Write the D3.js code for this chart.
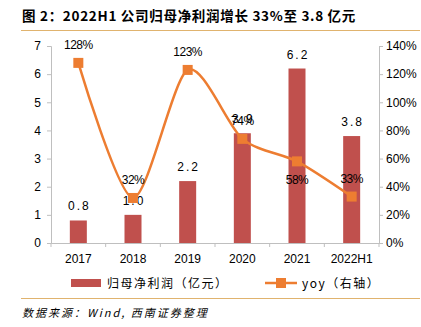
<!DOCTYPE html>
<html>
<head>
<meta charset="utf-8">
<script src="https://cdn.jsdelivr.net/npm/d3@7"></script>
<style>
  body { margin: 0; background: #fff; }
  text { font-family: "Liberation Sans", Arial, sans-serif; fill: #000; }
  .cjk { font-family: "Noto Sans CJK SC", sans-serif; }
</style>
</head>
<body>
<div id="chart"></div>
<script>
// data
var years = ["2017", "2018", "2019", "2020", "2021", "2022H1"];
var profit = [0.8, 1.0, 2.2, 3.9, 6.2, 3.8];
var yoy = [128, 32, 123, 74, 58, 33];
var leftTicks = [0, 1, 2, 3, 4, 5, 6, 7];
var rightTicks = [0, 20, 40, 60, 80, 100, 120, 140];

var width = 421, height = 327;
var plotL = 51, plotR = 379, plotT = 46, plotB = 243;

var svg = d3.select("#chart").append("svg")
    .attr("width", width)
    .attr("height", height);

// title + rules
svg.append("text")
    .attr("x", 22).attr("y", 21)
    .attr("class", "cjk")
    .attr("font-size", 13.5).attr("font-weight", "bold")
    .attr("letter-spacing", 0.7)
    .text("图 2：2022H1 公司归母净利润增长 33%至 3.8 亿元");

svg.append("line").attr("x1", 21).attr("x2", 420).attr("y1", 30.5).attr("y2", 30.5)
    .attr("stroke", "#E0B36E").attr("stroke-width", 1.2);
svg.append("line").attr("x1", 21).attr("x2", 420).attr("y1", 298.5).attr("y2", 298.5)
    .attr("stroke", "#E0B36E").attr("stroke-width", 1.2);

svg.append("text")
    .attr("x", 22).attr("y", 317)
    .attr("class", "cjk")
    .attr("font-size", 11).attr("font-style", "italic")
    .attr("letter-spacing", 2)
    .text("数据来源：Wind, 西南证券整理");

// scales
var x = d3.scaleBand().domain(years).range([plotL, plotR]);
var y = d3.scaleLinear().domain([0, 7]).range([plotB, plotT]);
var y2 = d3.scaleLinear().domain([0, 140]).range([plotB, plotT]);

// axes
var axisColor = "#BFBFBF";
var gl = svg.append("g").attr("transform", `translate(${plotL},0)`)
    .call(d3.axisLeft(y).tickValues(leftTicks).tickSize(4).tickPadding(6)
        .tickFormat(d3.format("d")));
var gr = svg.append("g").attr("transform", `translate(${plotR},0)`)
    .call(d3.axisRight(y2).tickValues(rightTicks).tickSize(4).tickPadding(3)
        .tickFormat(function(d){ return d + "%"; }));
var gb = svg.append("g").attr("transform", `translate(0,${plotB})`)
    .call(d3.axisBottom(x).tickSize(0).tickPadding(11));

[gl, gr, gb].forEach(function(g){
    g.select(".domain").attr("stroke", axisColor);
    g.selectAll(".tick line").attr("stroke", axisColor);
    g.selectAll("text").attr("font-size", 12).attr("fill", "#000")
        .style("font-family", "Liberation Sans, Arial, sans-serif");
});

// category separators on x axis
svg.append("g").selectAll("line")
    .data(d3.range(years.length + 1))
    .enter().append("line")
    .attr("x1", function(i){ return plotL + i * x.step(); })
    .attr("x2", function(i){ return plotL + i * x.step(); })
    .attr("y1", plotB).attr("y2", plotB + 4)
    .attr("stroke", axisColor);

// bars
var barW = 17;
svg.append("g").selectAll("rect")
    .data(profit)
    .enter().append("rect")
    .attr("x", function(d, i){ return x(years[i]) + x.bandwidth() / 2 - barW / 2; })
    .attr("y", function(d){ return y(d); })
    .attr("width", barW)
    .attr("height", function(d){ return plotB - y(d); })
    .attr("fill", "#C0504D");

svg.append("g").selectAll("text")
    .data(profit)
    .enter().append("text")
    .attr("x", function(d, i){ return x(years[i]) + x.bandwidth() / 2 + 1; })
    .attr("y", function(d){ return y(d) - 10; })
    .attr("text-anchor", "middle")
    .attr("font-size", 12)
    .attr("letter-spacing", 2)
    .text(function(d){ return d.toFixed(1); });

// yoy line
var line = d3.line()
    .x(function(d, i){ return x(years[i]) + x.bandwidth() / 2; })
    .y(function(d){ return y2(d); })
    .curve(d3.curveCardinal.tension(0.2));

svg.append("path")
    .datum(yoy)
    .attr("d", line)
    .attr("fill", "none")
    .attr("stroke", "#ED7D31")
    .attr("stroke-width", 2.5);

svg.append("g").selectAll("rect")
    .data(yoy)
    .enter().append("rect")
    .attr("x", function(d, i){ return x(years[i]) + x.bandwidth() / 2 - 5; })
    .attr("y", function(d){ return y2(d) - 5; })
    .attr("width", 10).attr("height", 10)
    .attr("fill", "#ED7D31");

// 58% sits under its marker, the rest above
svg.append("g").selectAll("text")
    .data(yoy)
    .enter().append("text")
    .attr("x", function(d, i){ return x(years[i]) + x.bandwidth() / 2; })
    .attr("y", function(d, i){ return i === 4 ? y2(d) + 23 : y2(d) - 14; })
    .attr("text-anchor", "middle")
    .attr("font-size", 12)
    .attr("letter-spacing", -0.5)
    .text(function(d){ return d + "%"; });

// legend
var lg = svg.append("g").attr("transform", "translate(0,283)");
lg.append("rect").attr("x", 71).attr("y", -4).attr("width", 30).attr("height", 8).attr("fill", "#C0504D");
lg.append("text").attr("x", 107).attr("y", 5).attr("class", "cjk").attr("font-size", 12)
    .attr("letter-spacing", 1.5).text("归母净利润（亿元）");
lg.append("line").attr("x1", 265).attr("x2", 297).attr("y1", 0).attr("y2", 0)
    .attr("stroke", "#ED7D31").attr("stroke-width", 2.5);
lg.append("rect").attr("x", 276).attr("y", -5).attr("width", 10).attr("height", 10).attr("fill", "#ED7D31");
lg.append("text").attr("x", 302).attr("y", 5).attr("class", "cjk").attr("font-size", 12)
    .attr("letter-spacing", 1.5).text("yoy（右轴）");
</script>
</body>
</html>
